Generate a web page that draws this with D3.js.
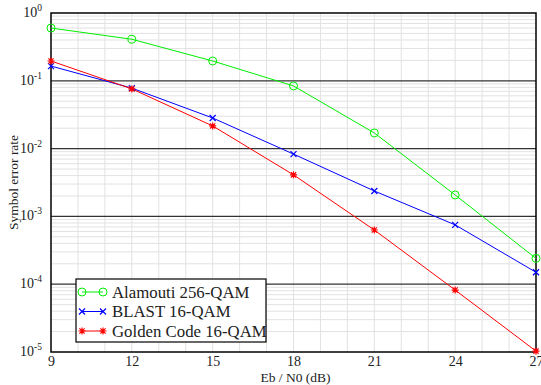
<!DOCTYPE html>
<html>
<head>
<meta charset="utf-8">
<script src="https://cdn.jsdelivr.net/npm/d3@7"></script>
<style>
  body { margin: 0; background: #fff; }
  svg text { font-family: 'Liberation Serif', 'Times New Roman', serif; fill: #222; }
</style>
</head>
<body>
<svg id="graph"></svg>
<script>
const ebn0 = [9, 12, 15, 18, 21, 24, 27]
const alamouti = [0.60, 0.41, 0.196, 0.084, 0.017, 0.00207, 0.00024]
const blast = [0.165, 0.078, 0.0283, 0.0083, 0.00237, 0.00075, 0.00015]
const golden = [0.196, 0.076, 0.0216, 0.0041, 0.00063, 0.000082, 0.0000103]
const xTicks = [9, 12, 15, 18, 21, 24, 27]
const yDecades = [0, -1, -2, -3, -4, -5]
const seriesNames = ['Alamouti 256-QAM', 'BLAST 16-QAM', 'Golden Code 16-QAM']

const width = 541
const height = 385
const margin = { top: 13, left: 51, bottom: 33, right: 5 }
const bodyWidth = width - margin.left - margin.right
const bodyHeight = height - margin.top - margin.bottom

const svg = d3.select('#graph').attr('width', width).attr('height', height)

const xScale = d3.scaleLinear().domain([9, 27]).range([0, bodyWidth])
const yScale = d3.scaleLog().domain([1e-5, 1]).range([bodyHeight, 0])

const body = svg.append('g').attr('transform', `translate(${margin.left},${margin.top})`)

// grid
const xGrid = d3.range(10, 27)
body.append('g').selectAll('line').data(xGrid).enter().append('line')
  .attr('x1', (d) => xScale(d)).attr('x2', (d) => xScale(d))
  .attr('y1', 0).attr('y2', bodyHeight)
  .attr('stroke', '#e2e2e2').attr('stroke-width', 1)

const minor = []
yDecades.slice(1).forEach((e) => {
  for (let m = 2; m <= 9; m++) minor.push(m * Math.pow(10, e))
})
body.append('g').selectAll('line').data(minor).enter().append('line')
  .attr('x1', 0).attr('x2', bodyWidth)
  .attr('y1', (d) => yScale(d)).attr('y2', (d) => yScale(d))
  .attr('stroke', '#e2e2e2').attr('stroke-width', 1)

body.append('g').selectAll('line').data(yDecades.slice(1, 5)).enter().append('line')
  .attr('x1', 0).attr('x2', bodyWidth)
  .attr('y1', (d) => yScale(Math.pow(10, d))).attr('y2', (d) => yScale(Math.pow(10, d)))
  .attr('stroke', '#333').attr('stroke-width', 1.2)

// frame
body.append('rect').attr('x', 0).attr('y', 0).attr('width', bodyWidth).attr('height', bodyHeight)
  .attr('fill', 'none').attr('stroke', '#000').attr('stroke-width', 1.5)

// x tick labels
const axisX = d3.axisBottom(xScale).tickValues(xTicks).tickSize(0).tickPadding(4)
body.append('g')
  .attr('transform', `translate(0,${bodyHeight})`)
  .call(axisX)
  .call((g) => g.select('.domain').remove())
  .selectAll('text')
  .style('font-family', "'Liberation Serif', serif")
  .style('font-size', '14px')
  .attr('fill', '#222')

// y tick labels with superscripts
const yl = body.append('g').selectAll('text').data(yDecades).enter().append('text')
  .attr('x', -9)
  .attr('y', (d) => yScale(Math.pow(10, d)) + 4)
  .attr('text-anchor', 'end')
  .style('font-size', '14px')
yl.append('tspan').text('10')
yl.append('tspan').attr('dy', -6).style('font-size', '9.5px').text((d) => d)

// series
const colors = ['#00ee00', '#0000ff', '#ff0000']
const allSeries = [alamouti, blast, golden]
const line = d3.line().x((d, i) => xScale(ebn0[i])).y((d) => yScale(d))

allSeries.forEach((s, k) => {
  body.append('path').datum(s)
    .attr('fill', 'none').attr('stroke', colors[k]).attr('stroke-width', 1)
    .attr('d', line)
})

const drawMarker = (g, k, x, y) => {
  if (k === 0) {
    g.append('circle').attr('cx', x).attr('cy', y).attr('r', 4)
      .attr('fill', 'none').attr('stroke', colors[0]).attr('stroke-width', 1)
  } else if (k === 1) {
    g.append('path').attr('d', `M${x - 3},${y - 3}L${x + 3},${y + 3}M${x - 3},${y + 3}L${x + 3},${y - 3}`)
      .attr('stroke', colors[1]).attr('stroke-width', 1.2)
  } else {
    g.append('path').attr('d', `M${x - 3.5},${y}L${x + 3.5},${y}M${x},${y - 3.5}L${x},${y + 3.5}M${x - 2.6},${y - 2.6}L${x + 2.6},${y + 2.6}M${x - 2.6},${y + 2.6}L${x + 2.6},${y - 2.6}`)
      .attr('stroke', colors[2]).attr('stroke-width', 1.2)
  }
}

allSeries.forEach((s, k) => {
  const g = body.append('g')
  s.forEach((v, i) => drawMarker(g, k, xScale(ebn0[i]), yScale(v)))
})

// legend
const legend = svg.append('g').attr('transform', 'translate(76,279)')
legend.append('rect').attr('width', 190).attr('height', 63)
  .attr('fill', '#fff').attr('stroke', '#000').attr('stroke-width', 1.2)
seriesNames.forEach((name, k) => {
  const y = 13 + k * 19.5
  legend.append('line').attr('x1', 6).attr('x2', 27).attr('y1', y).attr('y2', y)
    .attr('stroke', colors[k]).attr('stroke-width', 1)
  drawMarker(legend, k, 6, y)
  drawMarker(legend, k, 27, y)
  legend.append('text').attr('x', 36).attr('y', y + 5.5).style('font-size', '16.8px').text(name)
})

// axis titles
svg.append('text').attr('x', margin.left + bodyWidth / 2 + 2).attr('y', 382)
  .attr('text-anchor', 'middle').style('font-size', '13.5px').text('Eb / N0 (dB)')
svg.append('text')
  .attr('transform', `translate(18,${margin.top + bodyHeight / 2}) rotate(-90)`)
  .attr('text-anchor', 'middle').style('font-size', '13.5px').text('Symbol error rate')
</script>
</body>
</html>
